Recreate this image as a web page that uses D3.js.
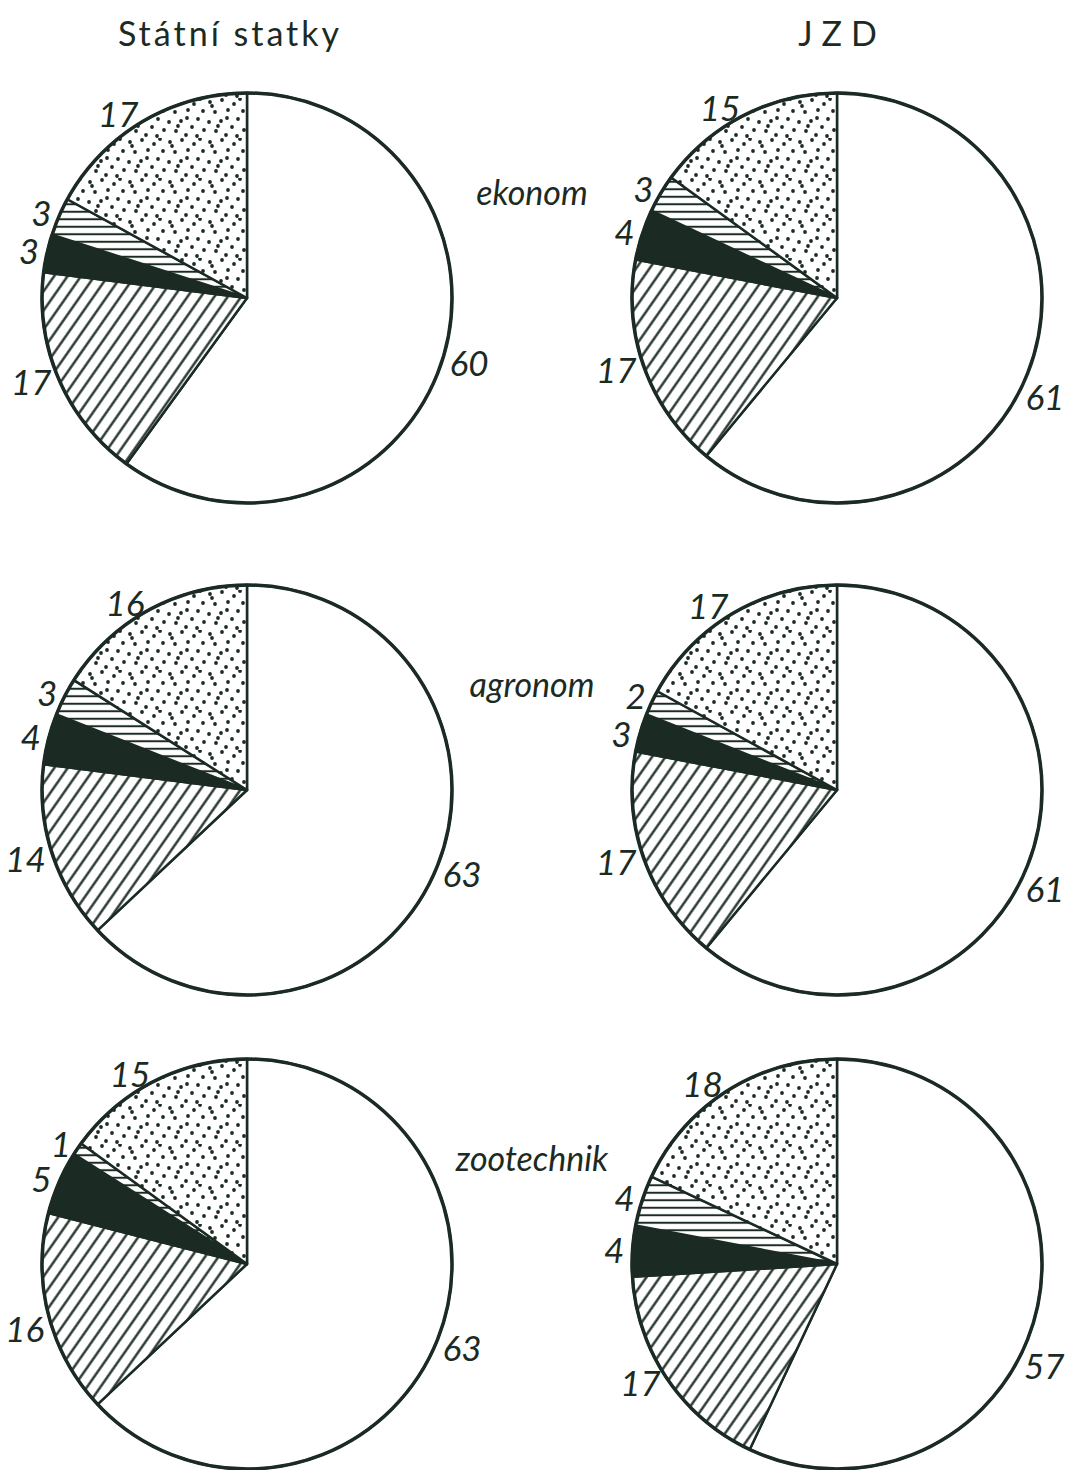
<!DOCTYPE html>
<html>
<head>
<meta charset="utf-8">
<script src="https://cdn.jsdelivr.net/npm/d3@7"></script>
<style>
  html, body { margin: 0; padding: 0; background: #fff; }
  svg { display: block; }
  .num { font-family: Lato, "Open Sans", sans-serif; font-style: italic; font-size: 35px; fill: #1b2b24; }
  .role { font-family: Lato, "Open Sans", sans-serif; font-style: italic; font-size: 34px; fill: #1b2b24; }
  .head { font-family: Lato, "Open Sans", sans-serif; font-size: 34px; fill: #1b2b24; }
</style>
</head>
<body>
<div id="chart"></div>
<script>
// --- Data ---
const groups = ["Státní statky", "JZD"];
const roles = ["ekonom", "agronom", "zootechnik"];
const segments = ["s1", "s2", "s3", "s4", "s5"]; // clockwise from 12 o'clock
const statkyValues = [
  [60, 17, 3, 3, 17],
  [63, 14, 4, 3, 16],
  [63, 16, 5, 1, 15]
];
const jzdValues = [
  [61, 17, 4, 3, 15],
  [61, 17, 3, 2, 17],
  [57, 17, 4, 4, 18]
];

// --- Layout ---
const width = 1074, height = 1470;
const ink = "#1b2b24";
const radius = 205;
const colX = d3.scaleOrdinal().domain(groups).range([247, 837]);
const rowY = d3.scaleOrdinal().domain(roles).range([298, 790, 1264]);
const headShift = d3.scaleOrdinal().domain(groups).range([-17, 5]);

const svg = d3.select("#chart").append("svg")
    .attr("width", width).attr("height", height);

// --- Fill patterns ---
const defs = svg.append("defs");

const diag = defs.append("pattern").attr("id", "diag")
    .attr("patternUnits", "userSpaceOnUse").attr("width", 11).attr("height", 11)
    .attr("patternTransform", "rotate(35)");
diag.append("rect").attr("width", 11).attr("height", 11).attr("fill", "#fff");
diag.append("line").attr("x1", 5.5).attr("y1", 0).attr("x2", 5.5).attr("y2", 11)
    .attr("stroke", ink).attr("stroke-width", 2.3);

const horiz = defs.append("pattern").attr("id", "horiz")
    .attr("patternUnits", "userSpaceOnUse").attr("width", 8).attr("height", 7.5);
horiz.append("rect").attr("width", 8).attr("height", 7.5).attr("fill", "#fff");
horiz.append("line").attr("x1", 0).attr("y1", 3.75).attr("x2", 8).attr("y2", 3.75)
    .attr("stroke", ink).attr("stroke-width", 2);

// dot texture: fixed scatter inside a 40px tile
const dotTile = [[3,4],[15,2],[27,6],[36,13],[8,14],[21,12],[31,21],[2,24],[14,23],
                 [25,29],[37,32],[9,33],[19,37],[30,38],[5,8],[33,1],[20,20],[11,28]];
const dots = defs.append("pattern").attr("id", "dots")
    .attr("patternUnits", "userSpaceOnUse").attr("width", 40).attr("height", 40);
dots.append("rect").attr("width", 40).attr("height", 40).attr("fill", "#fff");
dots.selectAll("circle").data(dotTile).enter().append("circle")
    .attr("cx", d => d[0]).attr("cy", d => d[1]).attr("r", 1.9).attr("fill", ink);

const fill = d3.scaleOrdinal().domain(segments)
    .range(["#ffffff", "url(#diag)", ink, "url(#horiz)", "url(#dots)"]);

// --- Pies ---
const pie = d3.pie().sort(null).value(d => d);
const arc = d3.arc().innerRadius(0).outerRadius(radius);
const minSep = 0.19; // min angle between neighbouring labels (rad)

function drawPie(group, role, values) {
  const cx = colX(group), cy = rowY(role);
  const g = svg.append("g").attr("transform", `translate(${cx},${cy})`);
  const arcs = pie(values);

  g.selectAll("path.slice").data(arcs).enter().append("path")
      .attr("class", "slice")
      .attr("d", arc)
      .attr("fill", (d, i) => fill(segments[i]))
      .attr("stroke", ink).attr("stroke-width", 2.5).attr("stroke-linejoin", "round");

  g.append("circle").attr("r", radius)
      .attr("fill", "none").attr("stroke", ink).attr("stroke-width", 3.5);

  // label angles: slice middles, spread where neighbours crowd
  const mids = arcs.map(d => (d.startAngle + d.endAngle) / 2);
  for (let i = 1; i < mids.length; i++) {
    const diff = mids[i] - mids[i - 1];
    if (diff < minSep) {
      mids[i - 1] -= (minSep - diff) / 2;
      mids[i] += (minSep - diff) / 2;
    }
  }

  const rr = radius + 8;
  function place(t, a) {
    const s = Math.sin(a), c = -Math.cos(a);
    t.attr("x", s * rr).attr("y", c * rr)
     .attr("text-anchor", s > 0.3 ? "start" : (s < -0.3 ? "end" : "middle"));
  }

  g.selectAll("text.num").data(arcs).enter().append("text")
      .attr("class", "num")
      .attr("dy", "0.36em")
      .text(d => d.data)
      .each(function(d, i) {
        const t = d3.select(this);
        let a = mids[i];
        place(t, a);
        // slide along the rim until the label fits on the page
        let guard = 0;
        while (guard++ < 40) {
          const box = this.getBBox();
          if (cx + box.x + box.width > width - 8 && Math.sin(a) > 0) a += 0.02;
          else if (cx + box.x < 4 && Math.sin(a) < 0) a -= 0.02;
          else break;
          place(t, a);
        }
      });
}

roles.forEach((role, i) => {
  drawPie(groups[0], role, statkyValues[i]);
  drawPie(groups[1], role, jzdValues[i]);
  svg.append("text").attr("class", "role")
      .attr("x", 532).attr("y", rowY(role) - 93)
      .attr("text-anchor", "middle").text(role);
});

svg.selectAll("text.head").data(groups).enter().append("text")
    .attr("class", "head")
    .attr("x", d => colX(d) + headShift(d)).attr("y", 46)
    .attr("text-anchor", "middle")
    .style("letter-spacing", (d, i) => i === 0 ? "3px" : "9px")
    .text(d => d);
</script>
</body>
</html>
